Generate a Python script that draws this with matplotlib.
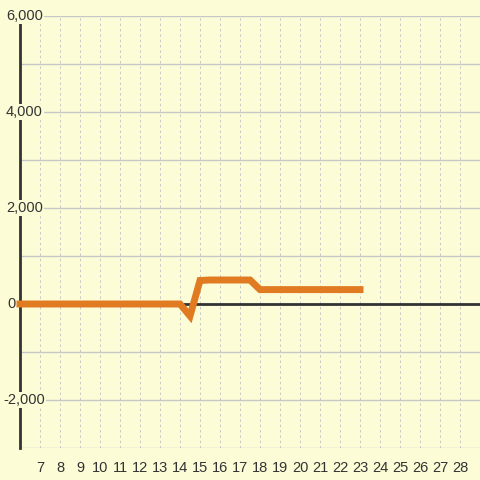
import matplotlib.pyplot as plt
from matplotlib.ticker import MultipleLocator

plt.rcParams['font.family'] = ['Liberation Sans', 'DejaVu Sans']

# data
days = [6, 7, 8, 9, 10, 11, 12, 13, 14, 14.5, 15, 15.5, 16, 16.5, 17, 17.5,
        18, 19, 20, 21, 22, 23]
values = [0, 0, 0, 0, 0, 0, 0, 0, 0, -250, 490, 500, 500, 500, 500, 500,
          300, 300, 300, 300, 300, 300]
x_ticks = list(range(7, 29))
y_labels = [-2000, 0, 2000, 4000, 6000]

bg = '#fcfcd7'
txt = '#333333'

fig = plt.figure(figsize=(4.8, 4.8), dpi=100, facecolor=bg)
ax = fig.add_axes([20 / 480, 32 / 480, 460 / 480, 432 / 480], facecolor=bg)

ax.set_xlim(6, 29)
ax.set_ylim(-3000, 6000)

# grid
ax.yaxis.set_major_locator(MultipleLocator(1000))
ax.set_xticks(x_ticks)
ax.grid(axis='y', color='#c8c8c8', linewidth=1.0, linestyle='-', zorder=0)
ax.grid(axis='x', color='#c8c8c8', linewidth=0.7, linestyle=(0, (2.5, 3)), zorder=0)
ax.tick_params(axis='y', left=False, labelleft=False)
ax.tick_params(axis='x', bottom=False, labelsize=10.5, labelcolor=txt, pad=6)

for s in ['top', 'right', 'bottom']:
    ax.spines[s].set_visible(False)
ax.spines['left'].set_color(txt)
ax.spines['left'].set_linewidth(2)
ax.spines['left'].set_zorder(2)

ax.axhline(0, color=txt, linewidth=2, zorder=2)

ax.plot(days, values, color='#e07b22', linewidth=5, zorder=6, clip_on=False,
        solid_joinstyle='miter', solid_capstyle='projecting')

for v in y_labels:
    lab = f'{v:,}'
    off = -14 if v >= 0 else -17
    if v == 0:
        off = -13
    ax.annotate(lab, xy=(0, v), xycoords=('axes fraction', 'data'),
                xytext=(off, 0), textcoords='offset pixels', ha='left',
                va='center', fontsize=10.5, color=txt, zorder=5,
                bbox=dict(facecolor=bg, edgecolor='none', pad=1.0))

fig.savefig('out.png', dpi=100, facecolor=bg)
